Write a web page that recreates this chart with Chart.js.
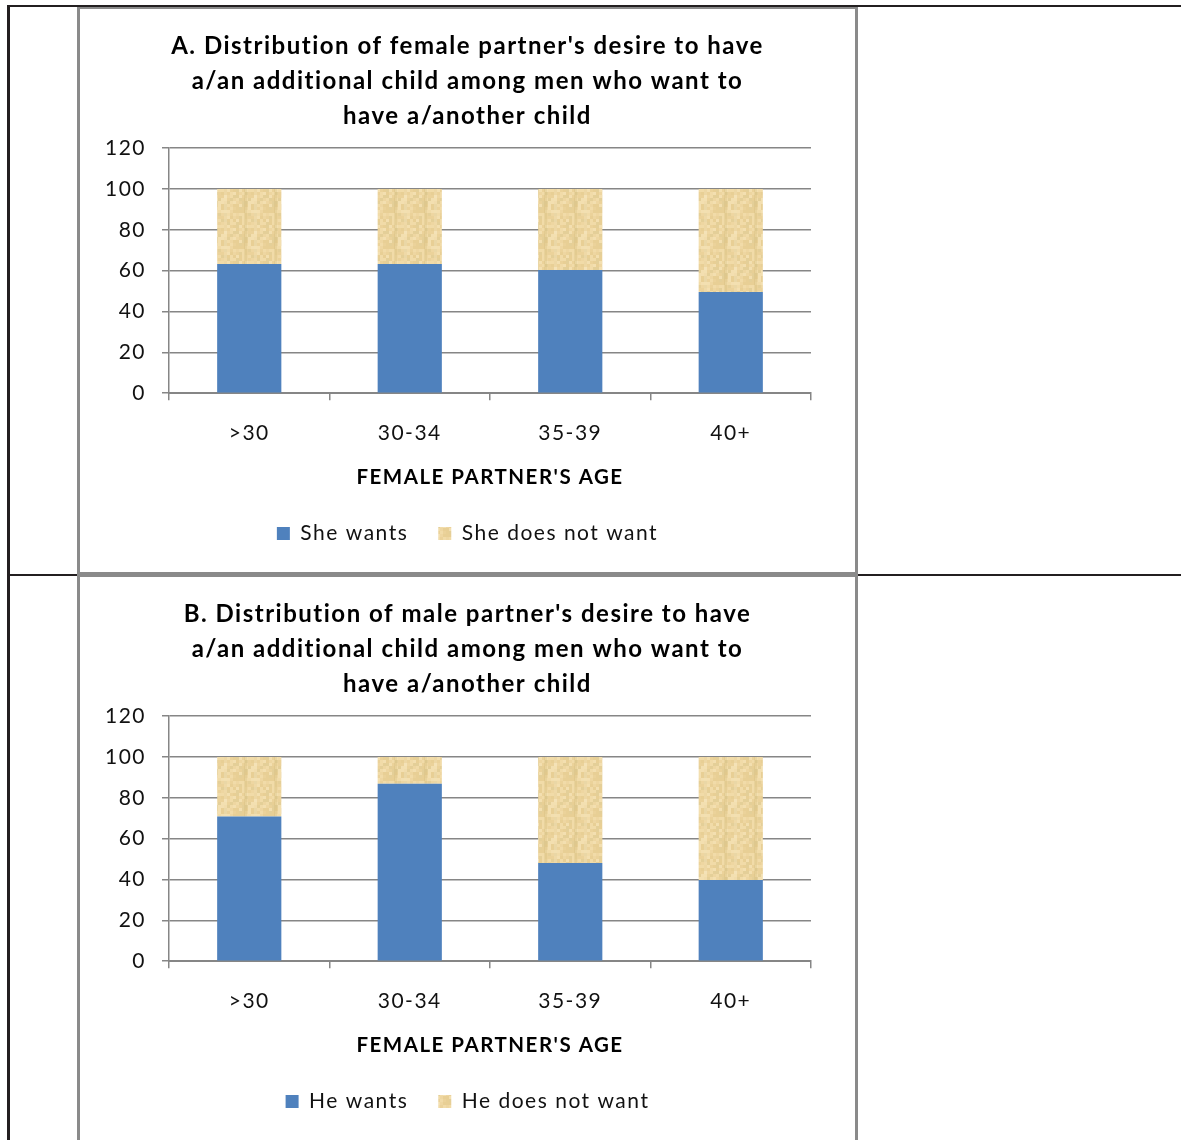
<!DOCTYPE html>
<html>
<head>
<meta charset="utf-8">
<script src="https://cdn.jsdelivr.net/npm/chart.js@4.4.1/dist/chart.umd.min.js"></script>
<style>
  html, body { margin: 0; padding: 0; background: #fff; overflow: hidden; }
  body { width: 1181px; height: 1140px; position: relative; }
  .line { position: absolute; }
  .black { background: #231f20; }
  .gray { background: #8a8a8a; }
  .box { position: absolute; left: 80px; width: 775px; }
  canvas { display: block; }
</style>
</head>
<body>
<!-- table lines -->
<div class="line black" style="left:8px;top:5px;width:1173px;height:2px"></div>
<div class="line black" style="left:7px;top:5px;width:3px;height:1135px"></div>
<div class="line black" style="left:8px;top:574px;width:1173px;height:2px"></div>
<!-- chart frames -->
<div class="line gray" style="left:77px;top:7px;width:3px;height:1133px"></div>
<div class="line gray" style="left:855px;top:7px;width:3px;height:1133px"></div>
<div class="line gray" style="left:77px;top:7px;width:781px;height:2px"></div>
<div class="line gray" style="left:77px;top:572px;width:781px;height:5px"></div>

<div class="box" style="top:9px;height:563px"><canvas id="chartA"></canvas></div>
<div class="box" style="top:577px;height:563px"><canvas id="chartB"></canvas></div>

<script>
const categories = ['>30', '30-34', '35-39', '40+']
const sheWants = [63.2, 63.2, 60.3, 49.6]
const sheDoesNot = [36.8, 36.8, 39.7, 50.4]
const heWants = [70.9, 86.9, 48.1, 39.8]
const heDoesNot = [29.1, 13.1, 51.9, 60.2]
const yMax = 120
const yStep = 20

const titleA = ["A. Distribution of female partner's desire to have", 'a/an additional child among men who want to', 'have a/another child']
const titleB = ["B. Distribution of male partner's desire to have", 'a/an additional child among men who want to', 'have a/another child']
const xTitle = "FEMALE PARTNER'S AGE"

const FONT = 'Lato, "Open Sans", sans-serif'

// the original text is rendered quite loose, so widen the letters a bit
const spacing = {
    id: 'spacing',
    beforeUpdate(chart) { chart.ctx.letterSpacing = '1.5px' },
    beforeDraw(chart) { chart.ctx.letterSpacing = '1.5px' }
}

// papyrus-like texture for the "does not want" series
function makeTexture() {
    const c = document.createElement('canvas')
    c.width = 30
    c.height = 36
    const g = c.getContext('2d')
    g.fillStyle = '#edd59f'
    g.fillRect(0, 0, 30, 36)
    const tones = ['#f1dba8', '#e8cf95', '#eed6a1', '#e4cf98', '#f3dfb0', '#ebd29a']
    let h = 7
    for (let y = 0; y < 36; y += 3) {
        for (let x = 0; x < 30; x += 3) {
            h = (h * 31 + x * 17 + y * 13) % 97
            g.fillStyle = tones[h % tones.length]
            g.fillRect(x, y, 3, 3)
        }
    }
    g.fillStyle = 'rgba(200,178,110,0.22)'
    g.fillRect(14, 0, 3, 36)
    g.fillStyle = 'rgba(250,235,200,0.3)'
    g.fillRect(24, 0, 3, 36)
    return g.createPattern(c, 'repeat')
}
const texture = makeTexture()

function buildChart(id, title, wants, notWants, labelWants, labelNot) {
    const ctx = document.getElementById(id)
    return new Chart(ctx, {
        type: 'bar',
        data: {
            labels: categories,
            datasets: [
                {
                    label: labelWants,
                    data: wants,
                    backgroundColor: '#4f81bd',
                    borderWidth: 0,
                },
                {
                    label: labelNot,
                    data: notWants,
                    backgroundColor: texture,
                    borderWidth: 0,
                }
            ]
        },
        plugins: [spacing],
        options: {
            responsive: true,
            maintainAspectRatio: false,
            animation: false,
            devicePixelRatio: 1,
            layout: { padding: { left: 20, right: 20, top: 20, bottom: 18 } },
            datasets: { bar: { categoryPercentage: 1, barPercentage: 0.4 } },
            plugins: {
                tooltip: { enabled: false },
                title: {
                    display: true,
                    text: title,
                    color: '#000',
                    font: { family: FONT, size: 24, weight: 'bold', lineHeight: 1.46 },
                    padding: { top: 0, bottom: 14 }
                },
                legend: {
                    position: 'bottom',
                    labels: {
                        color: '#111',
                        font: { family: FONT, size: 21 },
                        boxWidth: 13,
                        boxHeight: 13,
                        padding: 30
                    }
                }
            },
            scales: {
                x: {
                    stacked: true,
                    grid: { drawOnChartArea: false, drawTicks: true, tickLength: 7, color: '#868686', lineWidth: 1.5, offset: true },
                    border: { color: '#868686', width: 2 },
                    ticks: { color: '#111', font: { family: FONT, size: 21 }, padding: 20 },
                    title: {
                        display: true,
                        text: xTitle,
                        color: '#000',
                        font: { family: FONT, size: 20.5, weight: 'bold' },
                        padding: { top: 0, bottom: 3 }
                    }
                },
                y: {
                    stacked: true,
                    min: 0,
                    max: yMax,
                    afterFit(scale) { scale.width = 69 },
                    ticks: { stepSize: yStep, color: '#111', font: { family: FONT, size: 21 }, padding: 16 },
                    grid: { color: '#868686', lineWidth: 1.5, tickLength: 7 },
                    border: { color: '#868686', width: 1.5 }
                },
                // empty axis on the right, only to keep the plot clear of the frame
                spacer: {
                    type: 'linear',
                    position: 'right',
                    afterFit(scale) { scale.width = 24 },
                    grid: { display: false },
                    ticks: { display: false },
                    border: { display: false }
                }
            }
        }
    })
}

buildChart('chartA', titleA, sheWants, sheDoesNot, 'She wants', 'She does not want')
buildChart('chartB', titleB, heWants, heDoesNot, 'He wants', 'He does not want')
</script>
</body>
</html>
